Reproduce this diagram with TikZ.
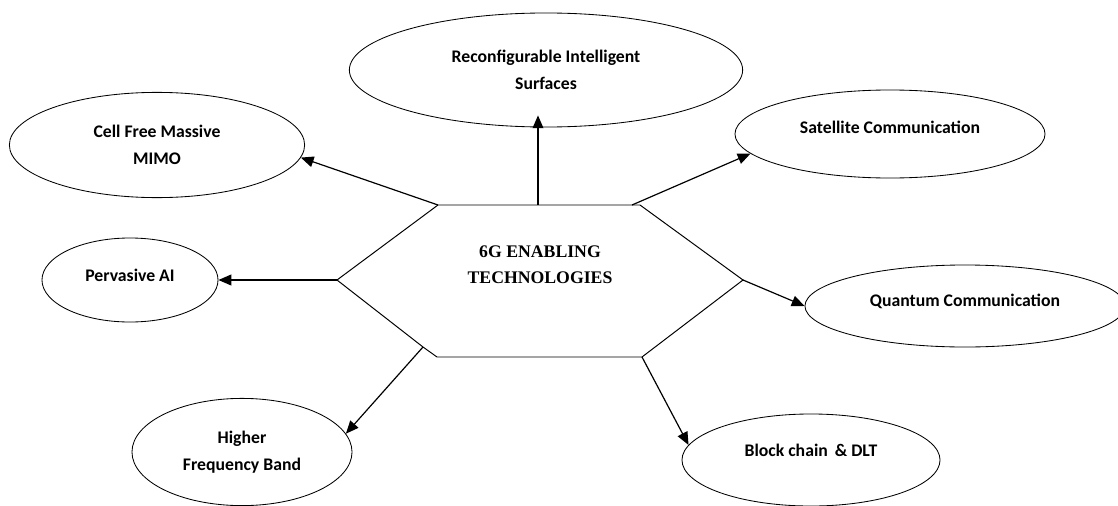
\documentclass[tikz,border=0pt]{standalone}
\usepackage{fontspec}
\setmainfont{Liberation Serif}
\newfontfamily\calibri{Carlito}
\usetikzlibrary{arrows.meta,shapes.geometric}

\begin{document}
\begin{tikzpicture}[x=0.025cm,y=-0.025cm,>={Triangle[length=0.32cm,width=0.27cm]},
 bubble/.style={draw,ellipse,line width=0.6pt,inner sep=0pt,align=center,font=\calibri\bfseries\fontsize{12.6}{19.6}\selectfont},
 link/.style={->,line width=0.85pt}]
 \clip (0,0) rectangle (1118,506);
 % hexagon in the middle
 \coordinate (h1) at (438,205); \coordinate (h2) at (640,205); \coordinate (h3) at (743,280);
 \coordinate (h4) at (642,357); \coordinate (h5) at (437,357); \coordinate (h6) at (337,280);
 \coordinate (ht) at (538,205); \coordinate (hs) at (632,205); \coordinate (hb) at (423,347);
 \draw[line width=0.7pt] (h1) -- (h2) -- (h3) -- (h4) -- (h5) -- (hb) -- (h6) -- cycle;
 \node[align=center,font=\bfseries\fontsize{12.6}{18.5}\selectfont] (core) at (540,265) {6G ENABLING\\TECHNOLOGIES};
 % technologies around it
 \node[bubble,minimum width=9.83cm,minimum height=2.85cm] (ris) at (546,70) {Reconfigurable Intelligent\\Surfaces};
 \node[bubble,minimum width=7.38cm,minimum height=2.63cm] (mimo) at (157,145) {Cell Free Massive\\MIMO};
 \node[bubble,minimum width=7.75cm,minimum height=2.2cm] (sat) at (890,134) {\raisebox{0.35cm}{Satellite Communication}};
 \node[bubble,minimum width=4.4cm,minimum height=2.1cm] (pai) at (130,280) {\raisebox{0.25cm}{Pervasive AI}};
 \node[bubble,minimum width=8cm,minimum height=2.05cm] (qc) at (965,306) {\raisebox{0.3cm}{Quantum Communication}};
 \node[bubble,minimum width=5.5cm,minimum height=2.68cm] (hfb) at (242,452) {Higher\\Frequency Band};
 \node[bubble,minimum width=6.45cm,minimum height=2.3cm] (bc) at (811,460) {\raisebox{0.5cm}{Block chain \,\& DLT}};
 % arrows
 \draw[link,shorten >=-0.3cm] (ht) -- (ht |- ris.south);
 \draw[link] (h1) -- (mimo.-5);
 \draw[link] (hs) -- (sat.188);
 \draw[link] (h6) -- (pai.east);
 \draw[link] (h3) -- (qc.west);
 \draw[link] (hb) -- (hfb.10);
 \draw[link] (h4) -- (bc.173);
\end{tikzpicture}
\end{document}
